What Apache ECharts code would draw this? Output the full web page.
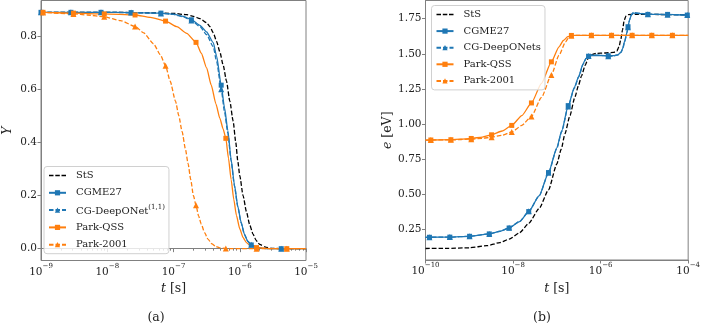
<!DOCTYPE html>
<html>
<head>
<meta charset="utf-8">
<script src="https://cdn.jsdelivr.net/npm/echarts@6/dist/echarts.min.js"></script>
<style>
  html, body { margin: 0; padding: 0; background: #fff; }
  #chart { width: 703px; height: 326px; }
</style>
</head>
<body>
<div id="chart"></div>
<script>
// 데이터: [log10(t), 값] 쌍, 그림에서 읽은 값
// (a) 패널: Y
const stsA = [[-9, 0.889], [-8, 0.889], [-7.5, 0.888], [-7, 0.885], [-6.8, 0.88], [-6.7, 0.874], [-6.6, 0.865],
  [-6.5, 0.85], [-6.45, 0.835], [-6.4, 0.812], [-6.35, 0.78], [-6.3, 0.74], [-6.25, 0.69], [-6.2, 0.63],
  [-6.15, 0.555], [-6.1, 0.48], [-6.06, 0.4], [-6.03, 0.33], [-6, 0.275], [-5.95, 0.2], [-5.9, 0.14],
  [-5.85, 0.09], [-5.8, 0.055], [-5.75, 0.03], [-5.7, 0.016], [-5.6, 0.005], [-5.5, 0.001], [-5.3, 0], [-5, 0]];
const cgmeA = [[-9, 0.889], [-8.548, 0.889], [-8.094, 0.889], [-7.64, 0.888], [-7.19, 0.886], [-7, 0.882],
  [-6.85, 0.874], [-6.73, 0.861], [-6.6, 0.84], [-6.5, 0.815], [-6.4, 0.775], [-6.35, 0.725], [-6.28, 0.615],
  [-6.23, 0.53], [-6.18, 0.445], [-6.13, 0.335], [-6.08, 0.24], [-6.03, 0.16], [-5.98, 0.1], [-5.93, 0.055],
  [-5.88, 0.028], [-5.826, 0.014], [-5.75, 0.005], [-5.65, 0.001], [-5.5, 0], [-5.374, 0], [-5.2, 0], [-5, 0]];
const deepA = [[-9, 0.889], [-8.548, 0.889], [-8.094, 0.889], [-7.64, 0.888], [-7.19, 0.885], [-7, 0.881],
  [-6.85, 0.872], [-6.73, 0.858], [-6.6, 0.835], [-6.5, 0.805], [-6.4, 0.76], [-6.35, 0.705], [-6.28, 0.6],
  [-6.23, 0.515], [-6.18, 0.435], [-6.13, 0.33], [-6.08, 0.235], [-6.03, 0.158], [-5.98, 0.098], [-5.93, 0.054],
  [-5.88, 0.028], [-5.826, 0.015], [-5.75, 0.005], [-5.65, 0.001], [-5.5, 0], [-5.374, 0], [-5.2, 0], [-5, 0]];
const qssA = [[-9, 0.889], [-8.97, 0.889], [-8.51, 0.886], [-8.045, 0.883], [-7.58, 0.879], [-7.35, 0.87],
  [-7.12, 0.856], [-6.95, 0.835], [-6.8, 0.81], [-6.66, 0.776], [-6.58, 0.735], [-6.5, 0.68], [-6.43, 0.615],
  [-6.36, 0.545], [-6.3, 0.49], [-6.25, 0.45], [-6.21, 0.415], [-6.17, 0.34], [-6.13, 0.26], [-6.09, 0.185],
  [-6.05, 0.125], [-6, 0.075], [-5.95, 0.042], [-5.9, 0.023], [-5.84, 0.011], [-5.746, 0.004], [-5.6, 0.001],
  [-5.5, 0], [-5.29, 0], [-5, 0]];
const park01A = [[-9, 0.889], [-8.97, 0.888], [-8.51, 0.883], [-8.3, 0.879], [-8.045, 0.872], [-7.8, 0.858],
  [-7.58, 0.836], [-7.45, 0.812], [-7.3, 0.77], [-7.2, 0.73], [-7.12, 0.688], [-7.05, 0.63], [-6.97, 0.555],
  [-6.92, 0.5], [-6.87, 0.44], [-6.82, 0.375], [-6.78, 0.32], [-6.74, 0.26], [-6.7, 0.2], [-6.66, 0.163],
  [-6.62, 0.122], [-6.58, 0.092], [-6.53, 0.06], [-6.48, 0.036], [-6.42, 0.018], [-6.36, 0.008], [-6.3, 0.003],
  [-6.21, 0.001], [-6.1, 0], [-5.746, 0], [-5.29, 0], [-5, 0]];

// (b) 패널: e [eV]
const stsB = [[-10, 0.113], [-9.5, 0.114], [-9, 0.118], [-8.6, 0.133], [-8.3, 0.155], [-8.09, 0.18], [-7.85, 0.225],
  [-7.64, 0.293], [-7.4, 0.4], [-7.19, 0.531], [-7, 0.715], [-6.9, 0.82], [-6.815, 0.93], [-6.7, 1.06],
  [-6.59, 1.19], [-6.5, 1.28], [-6.44, 1.34], [-6.35, 1.42], [-6.28, 1.47], [-6.2, 1.495], [-6.1, 1.503],
  [-5.9, 1.506], [-5.7, 1.51], [-5.63, 1.52], [-5.58, 1.55], [-5.54, 1.6], [-5.5, 1.67], [-5.46, 1.74],
  [-5.42, 1.77], [-5.37, 1.78], [-5.2, 1.782], [-4.5, 1.78], [-4, 1.778]];
const cgmeB = [[-10, 0.192], [-9.91, 0.193], [-9.444, 0.194], [-8.993, 0.2], [-8.543, 0.217], [-8.3, 0.235],
  [-8.09, 0.259], [-7.85, 0.305], [-7.642, 0.376], [-7.4, 0.49], [-7.19, 0.654], [-7, 0.83], [-6.89, 0.95],
  [-6.74, 1.131], [-6.6, 1.26], [-6.5, 1.34], [-6.4, 1.43], [-6.33, 1.47], [-6.275, 1.483], [-6.2, 1.488],
  [-6, 1.488], [-5.825, 1.486], [-5.7, 1.487], [-5.6, 1.495], [-5.54, 1.51], [-5.5, 1.535], [-5.45, 1.59],
  [-5.4, 1.65], [-5.374, 1.693], [-5.34, 1.74], [-5.3, 1.775], [-5.25, 1.79], [-5.1, 1.787], [-4.92, 1.781],
  [-4.47, 1.781], [-4.02, 1.776], [-4, 1.776]];
const deepB = [[-10, 0.192], [-9.91, 0.193], [-9.444, 0.194], [-8.993, 0.2], [-8.543, 0.217], [-8.3, 0.236],
  [-8.09, 0.26], [-7.85, 0.306], [-7.642, 0.378], [-7.4, 0.49], [-7.19, 0.652], [-7, 0.825], [-6.89, 0.945],
  [-6.74, 1.125], [-6.6, 1.255], [-6.5, 1.335], [-6.4, 1.425], [-6.33, 1.468], [-6.275, 1.485], [-6.2, 1.493],
  [-6, 1.49], [-5.825, 1.483], [-5.7, 1.485], [-5.6, 1.493], [-5.54, 1.508], [-5.5, 1.53], [-5.45, 1.585],
  [-5.4, 1.648], [-5.374, 1.69], [-5.34, 1.74], [-5.3, 1.78], [-5.25, 1.795], [-5.1, 1.79], [-4.92, 1.782],
  [-4.47, 1.779], [-4.02, 1.777], [-4, 1.777]];
const qssB = [[-10, 0.885], [-9.878, 0.886], [-9.42, 0.888], [-9.2, 0.892], [-8.955, 0.897], [-8.7, 0.907],
  [-8.49, 0.923], [-8.25, 0.95], [-8.03, 0.99], [-7.8, 1.06], [-7.58, 1.15], [-7.35, 1.29], [-7.124, 1.443],
  [-6.95, 1.55], [-6.85, 1.595], [-6.75, 1.622], [-6.667, 1.631], [-6.5, 1.632], [-6.21, 1.632], [-5.75, 1.632],
  [-5.28, 1.632], [-4.83, 1.632], [-4.36, 1.632], [-4, 1.632]];
const park01B = [[-10, 0.885], [-9.878, 0.886], [-9.42, 0.887], [-8.955, 0.892], [-8.7, 0.898], [-8.49, 0.906],
  [-8.25, 0.92], [-8.03, 0.943], [-7.8, 0.99], [-7.58, 1.054], [-7.35, 1.19], [-7.124, 1.35], [-6.95, 1.49],
  [-6.8, 1.585], [-6.72, 1.62], [-6.667, 1.628], [-6.55, 1.632], [-6.21, 1.632], [-5.75, 1.632], [-5.28, 1.632],
  [-4.83, 1.632], [-4.36, 1.632], [-4, 1.632]];

// 마커 위치 (log10 t)
const blueMarksA = [-9, -8.548, -8.094, -7.64, -7.19, -6.73, -6.28, -5.826, -5.374];
const orangeMarksA = [-8.97, -8.51, -8.045, -7.58, -7.12, -6.66, -6.21, -5.746, -5.29];
const blueMarksB = [-9.91, -9.444, -8.993, -8.543, -8.09, -7.642, -7.19, -6.74, -6.275, -5.825, -5.374, -4.92, -4.47, -4.02];
const orangeMarksB = [-9.878, -9.42, -8.955, -8.49, -8.03, -7.58, -7.124, -6.667, -6.21, -5.75, -5.28, -4.83, -4.36];

// 축 눈금
const yTicksA = [0, 0.2, 0.4, 0.6, 0.8];
const yTicksB = [0.25, 0.5, 0.75, 1.0, 1.25, 1.5, 1.75];
const xTicksA = [1e-9, 1e-8, 1e-7, 1e-6, 1e-5];
const xTicksB = [1e-10, 1e-8, 1e-6, 1e-4];

const FONT = '"DejaVu Serif", serif';
const FS = 10.5;      // 눈금 글자 크기
const FS_LEG = 10;    // 범례 글자 크기
const FS_SUP = 7;     // 지수 글자 크기
const FS_NAME = 12.5; // 축 이름 글자 크기
const GREY = '#808080';
const INK = '#222';
const BLUE = '#1f77b4';
const ORANGE = '#ff7f0e';
// 점선 범례 아이콘 (StS)
const DASH_ICON = 'path://M0,0H4.5V1.3H0Z M6.3,0H10.8V1.3H6.3Z M12.5,0H17V1.3H12.5Z';

function powLabel(v) {
    const p = Math.round(Math.log10(v));
    return `{b|10}{s|\u2212${-p}}`;
}

function xAxis(gridIndex, min, max, ticks, minor) {
    return {
        type: 'log', logBase: 10, gridIndex, min, max,
        axisLine: { show: true, lineStyle: { color: GREY, width: 1 } },
        axisTick: { show: true, length: 3.5, customValues: ticks, lineStyle: { color: GREY } },
        minorTick: { show: minor, splitNumber: 9, length: 2, lineStyle: { color: GREY } },
        splitLine: { show: false },
        axisLabel: {
            customValues: ticks, margin: 2, color: INK, formatter: powLabel,
            rich: {
                b: { fontFamily: FONT, fontSize: FS, lineHeight: 15, verticalAlign: 'bottom', color: INK },
                s: { fontFamily: FONT, fontSize: FS_SUP, lineHeight: 15, verticalAlign: 'top', color: INK }
            }
        },
        name: '{i|t} [s]', nameLocation: 'middle', nameGap: 22,
        nameTextStyle: {
            fontFamily: FONT, fontSize: FS_NAME, color: INK,
            rich: { i: { fontFamily: FONT, fontSize: FS_NAME, fontStyle: 'italic', color: INK } }
        }
    };
}

function yAxis(gridIndex, min, max, ticks, digits, name, gap) {
    return {
        type: 'value', gridIndex, min, max,
        axisLine: { show: true, lineStyle: { color: GREY, width: 1 } },
        axisTick: { show: true, length: 3.5, customValues: ticks, lineStyle: { color: GREY } },
        splitLine: { show: false },
        axisLabel: {
            customValues: ticks, margin: 4, fontFamily: FONT, fontSize: FS, color: INK,
            formatter: v => v.toFixed(digits)
        },
        name, nameLocation: 'middle', nameGap: gap,
        nameTextStyle: {
            fontFamily: FONT, fontSize: FS_NAME, color: INK,
            rich: { i: { fontFamily: FONT, fontSize: FS_NAME, fontStyle: 'italic', color: INK } }
        }
    };
}

function series(name, pts, marks, color, dashed, symbol, idx) {
    return {
        name, type: 'line', xAxisIndex: idx, yAxisIndex: idx,
        data: pts.map(([e, v]) => marks.includes(e) ? [10 ** e, v] : { value: [10 ** e, v], symbol: 'none' }),
        symbol, symbolSize: symbol === 'triangle' ? 6 : 5,
        showSymbol: true, showAllSymbol: true,
        smooth: 0.2, smoothMonotone: 'x',
        lineStyle: { color, width: 1.3, type: dashed ? [4.5, 2] : 'solid' },
        itemStyle: { color },
        emphasis: { disabled: true }
    };
}

function legend(left, top, names, gap) {
    return {
        orient: 'vertical', left, top,
        data: names.map(n => n === 'StS' ? { name: n, icon: DASH_ICON } : n),
        itemWidth: 17, itemHeight: 6.5, itemGap: gap,
        padding: [3, 4, 3, 4],
        backgroundColor: 'rgba(255,255,255,0.8)',
        borderColor: '#d0d0d0', borderWidth: 1, borderRadius: 3,
        selectedMode: false,
        formatter: n => n === 'CG-DeepONet' ? '{n|CG-DeepONet}{s|(1,1)}' : n,
        textStyle: {
            fontFamily: FONT, fontSize: FS_LEG, color: INK, lineHeight: 12, padding: [0, 0, 0, 5],
            rich: {
                n: { fontFamily: FONT, fontSize: FS_LEG, color: INK, lineHeight: 12, verticalAlign: 'bottom' },
                s: { fontFamily: FONT, fontSize: FS_SUP, color: INK, lineHeight: 12, verticalAlign: 'top' }
            }
        }
    };
}

const chart = echarts.init(document.getElementById('chart'), null, { renderer: 'canvas' });

chart.setOption({
    animation: false,
    textStyle: { fontFamily: FONT },
    grid: [
        { left: 38, top: 0.5, width: 268, height: 260, show: true, borderColor: GREY, borderWidth: 1, backgroundColor: 'transparent' },
        { left: 425.5, top: 0.5, width: 266.5, height: 259.5, show: true, borderColor: GREY, borderWidth: 1, backgroundColor: 'transparent' }
    ],
    xAxis: [
        xAxis(0, 1e-9, 1e-5, xTicksA, true),
        xAxis(1, 1e-10, 1e-4, xTicksB, false)
    ],
    yAxis: [
        yAxis(0, -0.0445, 0.9335, yTicksA, 1, '{i|Y}', 27),
        yAxis(1, 0.031, 1.88, yTicksB, 2, '{i|e} [eV]', 30)
    ],
    legend: [
        legend(44, 166.5, ['StS', 'CGME27', 'CG-DeepONet', 'Park-QSS', 'Park-2001'], 5.3),
        legend(431.5, 5.5, ['StS', 'CGME27', 'CG-DeepONets', 'Park-QSS', 'Park-2001'], 4.6)
    ],
    graphic: [
        { type: 'text', x: 156, y: 318, style: { text: '(a)', font: `${FS_NAME}px ${FONT}`, fill: INK, align: 'center', verticalAlign: 'middle' } },
        { type: 'text', x: 542, y: 318, style: { text: '(b)', font: `${FS_NAME}px ${FONT}`, fill: INK, align: 'center', verticalAlign: 'middle' } }
    ],
    series: [
        series('StS', stsA, [], '#000', true, 'none', 0),
        series('CGME27', cgmeA, blueMarksA, BLUE, false, 'rect', 0),
        series('CG-DeepONet', deepA, blueMarksA, BLUE, true, 'triangle', 0),
        series('Park-QSS', qssA, orangeMarksA, ORANGE, false, 'rect', 0),
        series('Park-2001', park01A, orangeMarksA, ORANGE, true, 'triangle', 0),
        series('StS', stsB, [], '#000', true, 'none', 1),
        series('CGME27', cgmeB, blueMarksB, BLUE, false, 'rect', 1),
        series('CG-DeepONets', deepB, blueMarksB, BLUE, true, 'triangle', 1),
        series('Park-QSS', qssB, orangeMarksB, ORANGE, false, 'rect', 1),
        series('Park-2001', park01B, orangeMarksB, ORANGE, true, 'triangle', 1)
    ]
});
</script>
</body>
</html>
